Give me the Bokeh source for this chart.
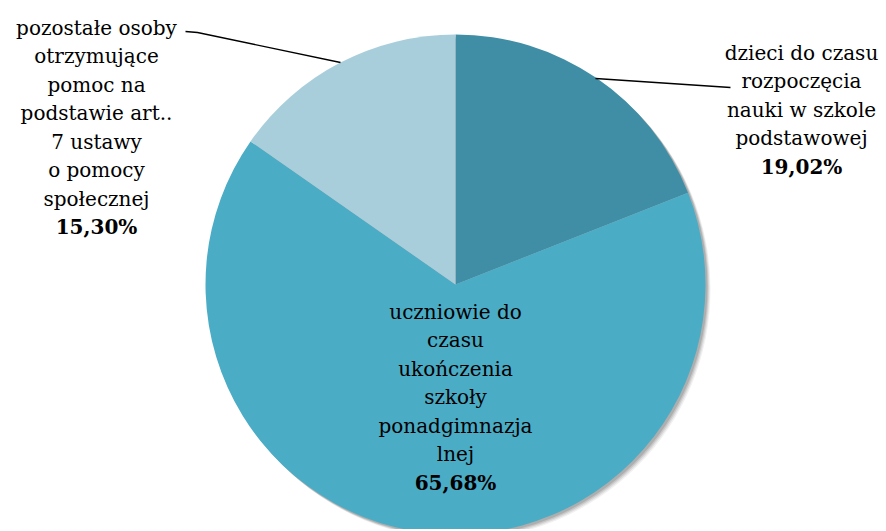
import math
from bokeh.plotting import figure
from bokeh.models import Range1d, ColumnDataSource
from bokeh.core.properties import value
from bokeh.embed import file_html
from bokeh.resources import INLINE

categories = [
    "dzieci do czasu\nrozpoczęcia\nnauki w szkole\npodstawowej",
    "uczniowie do\nczasu\nukończenia\nszkoły\nponadgimnazja\nlnej",
    "pozostałe osoby\notrzymujące\npomoc na\npodstawie art..\n7 ustawy\no pomocy\nspołecznej",
]
values = [19.02, 65.68, 15.30]
pct_labels = ["19,02%", "65,68%", "15,30%"]
colors = ["#3f8ea6", "#4bacc6", "#a9cedb"]

W, H = 884, 529
p = figure(width=W, height=H, output_backend="svg", toolbar_location=None,
           x_range=Range1d(0, W), y_range=Range1d(-H, 0),
           min_border=0, outline_line_color=None)
p.axis.visible = False
p.grid.visible = False

cx, cy, r = 455, -284, 250
total = sum(values)
starts, ends = [], []
a = math.pi / 2
for v in values:
    starts.append(a)
    a -= 2 * math.pi * v / total
    ends.append(a)

# soft shadow
for off, al in [(5, 0.06), (4, 0.08), (3, 0.10), (2, 0.12)]:
    p.circle(x=[cx + off], y=[cy - off], radius=r, fill_color="black",
             fill_alpha=al, line_color=None)

src = ColumnDataSource(dict(start=starts, end=ends, color=colors))
p.wedge(x=cx, y=cy, radius=r, start_angle="start", end_angle="end",
        direction="clock", fill_color="color", line_color=None, source=src)

font = value("DejaVu Serif")
fs = "20px"
lh = 28.5

def draw_label(x, y_top, text, pct):
    lines = text.split("\n")
    ys = [-(y_top + i * lh) for i in range(len(lines))]
    p.text(x=[x] * len(lines), y=ys, text=lines, text_font=font,
           text_font_size=fs, text_align="center", text_baseline="middle",
           text_color="#000000")
    p.text(x=[x], y=[-(y_top + len(lines) * lh)], text=[pct], text_font=font,
           text_font_size=fs, text_font_style="bold", text_align="center",
           text_baseline="middle", text_color="#000000")

draw_label(801, 52, categories[0], pct_labels[0])
draw_label(455, 311, categories[1], pct_labels[1])
draw_label(96, 27, categories[2], pct_labels[2])

# leader lines
p.line(x=[595, 730], y=[-78, -87], line_color="black", line_width=1.3)
p.line(x=[185, 197, 340], y=[-31, -32, -62], line_color="black", line_width=1.3)

open("out.html", "w").write(file_html(p, INLINE))
